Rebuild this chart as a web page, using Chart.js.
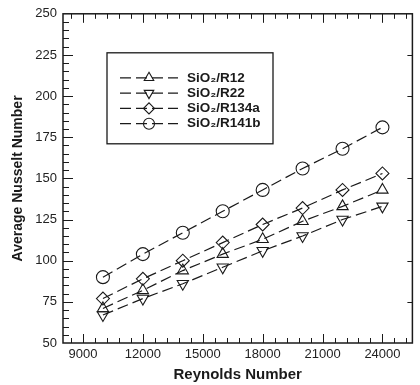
<!DOCTYPE html>
<html>
<head>
<meta charset="utf-8">
<script src="https://cdn.jsdelivr.net/npm/chart.js@4.4.1/dist/chart.umd.min.js"></script>
<style>
  html, body { margin: 0; padding: 0; background: #fff; }
  #wrap { width: 420px; height: 385px; position: relative; }
</style>
</head>
<body>
<div id="wrap"><canvas id="nusseltChart"></canvas></div>
<script>
// Reynolds numbers (x values)
const reynolds = [10000, 12000, 14000, 16000, 18000, 20000, 22000, 24000];

// Average Nusselt number for each nanofluid
const nuR12   = [71, 82, 94, 104, 113, 124, 133, 143];
const nuR22   = [67, 77, 86, 96, 106, 115, 125, 133];
const nuR134a = [77, 89, 100, 111, 122, 132, 143, 153];
const nuR141b = [90, 104, 117, 130, 143, 156, 168, 181];

const seriesLabels = ['SiO\u2082/R12', 'SiO\u2082/R22', 'SiO\u2082/R134a', 'SiO\u2082/R141b'];

// Axis tick labels
const xTicks = [9000, 12000, 15000, 18000, 21000, 24000];
const yTicks = [50, 75, 100, 125, 150, 175, 200, 225, 250];

const FONT = '"Liberation Sans", Arial, Helvetica, sans-serif';
const INK = '#1a1a1a';

function makeSet(label, values, style, rotation) {
    return {
        label: label,
        data: values.map((v, i) => ({ x: reynolds[i], y: v })),
        borderColor: INK,
        borderWidth: 1.2,
        borderDash: [11, 5],
        pointStyle: style,
        pointRotation: rotation,
        pointRadius: 6.5,
        pointHoverRadius: 6.5,
        pointBorderColor: INK,
        pointBackgroundColor: 'rgba(0,0,0,0)',
        pointBorderWidth: 1.1,
        fill: false,
        tension: 0
    };
}

// Frame with inward tick marks on all sides
const frameTicks = {
    id: 'frameTicks',
    beforeDatasetsDraw(chart) {
        const { ctx, chartArea: a, scales: { x, y } } = chart;
        ctx.save();
        ctx.strokeStyle = INK;
        ctx.lineWidth = 1;
        ctx.beginPath();
        for (let v = 8400; v <= x.max; v += 600) {
            const px = Math.round(x.getPixelForValue(v)) + 0.5;
            const len = v % 3000 === 0 ? 9 : 5;
            ctx.moveTo(px, a.bottom); ctx.lineTo(px, a.bottom - len);
            ctx.moveTo(px, a.top); ctx.lineTo(px, a.top + len);
        }
        for (let v = y.min + 5; v < y.max; v += 5) {
            const py = Math.round(y.getPixelForValue(v)) + 0.5;
            const major = v % 25 === 0;
            const len = major ? 10 : 6;
            ctx.moveTo(a.left, py); ctx.lineTo(a.left + len, py);
            if (major) { ctx.moveTo(a.right, py); ctx.lineTo(a.right - 5, py); }
        }
        ctx.stroke();
        ctx.lineWidth = 1.5;
        ctx.strokeRect(a.left, a.top, a.right - a.left, a.bottom - a.top);
        ctx.restore();
    }
};

// Boxed legend inside the plot, line sample with marker
const boxLegend = {
    id: 'boxLegend',
    afterDatasetsDraw(chart) {
        const { ctx, chartArea: a } = chart;
        const bx = a.left + 44, by = a.top + 39, bw = 166, bh = 91;
        ctx.save();
        ctx.strokeStyle = INK;
        ctx.lineWidth = 1.3;
        ctx.setLineDash([]);
        ctx.fillStyle = '#fff';
        ctx.fillRect(bx, by, bw, bh);
        ctx.strokeRect(bx, by, bw, bh);
        chart.data.datasets.forEach((ds, i) => {
            const ry = by + 25 + i * 15.3;
            ctx.strokeStyle = INK;
            ctx.lineWidth = 1.2;
            ctx.setLineDash(ds.borderDash);
            ctx.beginPath();
            ctx.moveTo(bx + 13, ry);
            ctx.lineTo(bx + 71, ry);
            ctx.stroke();
            ctx.setLineDash([]);
            ctx.fillStyle = 'rgba(0,0,0,0)';
            ctx.lineWidth = 1.1;
            Chart.helpers.drawPoint(ctx, {
                pointStyle: ds.pointStyle,
                rotation: ds.pointRotation,
                radius: 5.5,
                borderWidth: 1.1
            }, bx + 42, ry);
            ctx.fillStyle = INK;
            ctx.font = 'bold 13.5px ' + FONT;
            ctx.textBaseline = 'middle';
            ctx.textAlign = 'left';
            ctx.fillText(ds.label, bx + 80, ry);
        });
        ctx.restore();
    }
};

new Chart(document.getElementById('nusseltChart'), {
    type: 'line',
    data: {
        datasets: [
            makeSet(seriesLabels[0], nuR12, 'triangle', 0),
            makeSet(seriesLabels[1], nuR22, 'triangle', 180),
            makeSet(seriesLabels[2], nuR134a, 'rectRot', 0),
            makeSet(seriesLabels[3], nuR141b, 'circle', 0)
        ]
    },
    options: {
        responsive: true,
        maintainAspectRatio: false,
        animation: false,
        layout: { padding: { top: 12, right: 2, left: 0, bottom: 0 } },
        plugins: {
            legend: { display: false },
            tooltip: { enabled: false }
        },
        scales: {
            x: {
                type: 'linear',
                min: 8000,
                max: 25500,
                afterBuildTicks: s => { s.ticks = xTicks.map(v => ({ value: v })); },
                afterFit: s => { s.height = 42; },
                grid: { display: false, drawTicks: false },
                border: { display: false },
                ticks: {
                    padding: 4,
                    autoSkip: false,
                    maxRotation: 0,
                    color: '#222',
                    font: { family: FONT, size: 13 },
                    callback: v => String(v)
                },
                title: {
                    display: true,
                    text: 'Reynolds Number',
                    color: INK,
                    font: { family: FONT, size: 15, weight: 'bold' },
                    padding: { top: 0, bottom: 1 }
                }
            },
            y: {
                min: 50,
                max: 250,
                afterBuildTicks: s => { s.ticks = yTicks.map(v => ({ value: v })); },
                afterFit: s => { s.width = 63; },
                grid: { display: false, drawTicks: false },
                border: { display: false },
                ticks: {
                    padding: 6,
                    color: '#222',
                    font: { family: FONT, size: 13 }
                },
                title: {
                    display: true,
                    text: 'Average Nusselt Number',
                    color: INK,
                    font: { family: FONT, size: 14, weight: 'bold' },
                    padding: 10
                }
            }
        }
    },
    plugins: [frameTicks, boxLegend]
});
</script>
</body>
</html>
